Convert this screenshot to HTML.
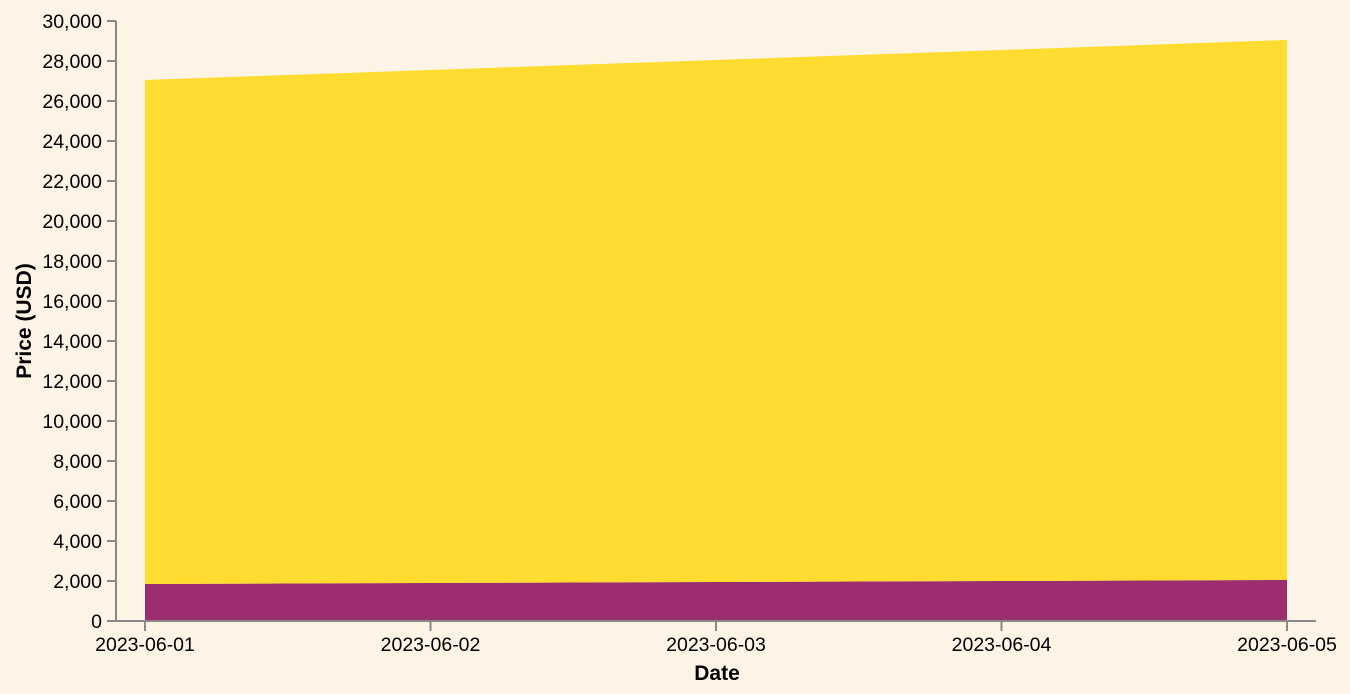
<!DOCTYPE html>
<html><head><meta charset="utf-8"><style>
html,body{margin:0;padding:0;background:#fdf4e6;}
svg{display:block;font-family:"Liberation Sans",Arial,sans-serif;}
</style></head><body>
<svg id="chart" width="1350" height="694">
<rect width="1350" height="694" fill="#fdf4e6"/>
<g id="areas"></g>
<g id="axes"></g>
<text x="717" y="680" text-anchor="middle" font-size="21" font-weight="bold" fill="#000">Date</text>
<text transform="translate(31,321) rotate(-90)" text-anchor="middle" font-size="21" font-weight="bold" fill="#000">Price (USD)</text>
</svg>
<script>
const dates = ["2023-06-01","2023-06-02","2023-06-03","2023-06-04","2023-06-05"];
const ethValues = [1850,1900,1950,2000,2050];
const btcValues = [25200,25650,26100,26550,27000];
const yTicks = [0,2000,4000,6000,8000,10000,12000,14000,16000,18000,20000,22000,24000,26000,28000,30000];

const NS="http://www.w3.org/2000/svg";
const x0=145,x1=1287,y0=621,y1=21,yMax=30000;
const xs=i=>x0+(x1-x0)*i/(dates.length-1);
const ys=v=>y0-(y0-y1)*v/yMax;
function mk(tag,attrs,parent){const e=document.createElementNS(NS,tag);for(const k in attrs)e.setAttribute(k,attrs[k]);parent.appendChild(e);return e;}
const areas=document.getElementById('areas'),axes=document.getElementById('axes');

function areaPath(lower,upper){
  let d="";
  for(let i=0;i<dates.length;i++)d+=(i?"L":"M")+xs(i)+","+ys(upper[i]);
  for(let i=dates.length-1;i>=0;i--)d+="L"+xs(i)+","+ys(lower[i]);
  return d+"Z";
}
const zeros=dates.map(()=>0);
const total=ethValues.map((v,i)=>v+btcValues[i]);
const eth=mk('path',{d:areaPath(zeros,ethValues),fill:"#9c2d6e"},areas);


const btc=mk('path',{d:areaPath(ethValues,total),fill:"#ffdc2f"},areas);



const ya=mk('line',{x1:116,y1:y1,x2:116,y2:y0,stroke:"#888",'stroke-width':2},axes);


const xa=mk('line',{x1:115,y1:y0,x2:1316,y2:y0,stroke:"#888",'stroke-width':2},axes);


yTicks.forEach(t=>{
  const y=ys(t);
  const tk=mk('line',{x1:107,y1:y,x2:116,y2:y,stroke:"#888",'stroke-width':2},axes);
  
  
  const lb=mk('text',{x:102,y:y+7,'text-anchor':'end','font-size':19.5,fill:"#000"},axes);
  lb.textContent=t.toLocaleString('en-US');
  
  
});
dates.forEach((d,i)=>{
  const x=xs(i);
  const tk=mk('line',{x1:x,y1:y0,x2:x,y2:y0+10,stroke:"#888",'stroke-width':2},axes);
  
  
  const lb=mk('text',{x:x,y:651,'text-anchor':'middle','font-size':19.5,fill:"#000"},axes);
  lb.textContent=d;
  
  
});
</script>
</body></html>
